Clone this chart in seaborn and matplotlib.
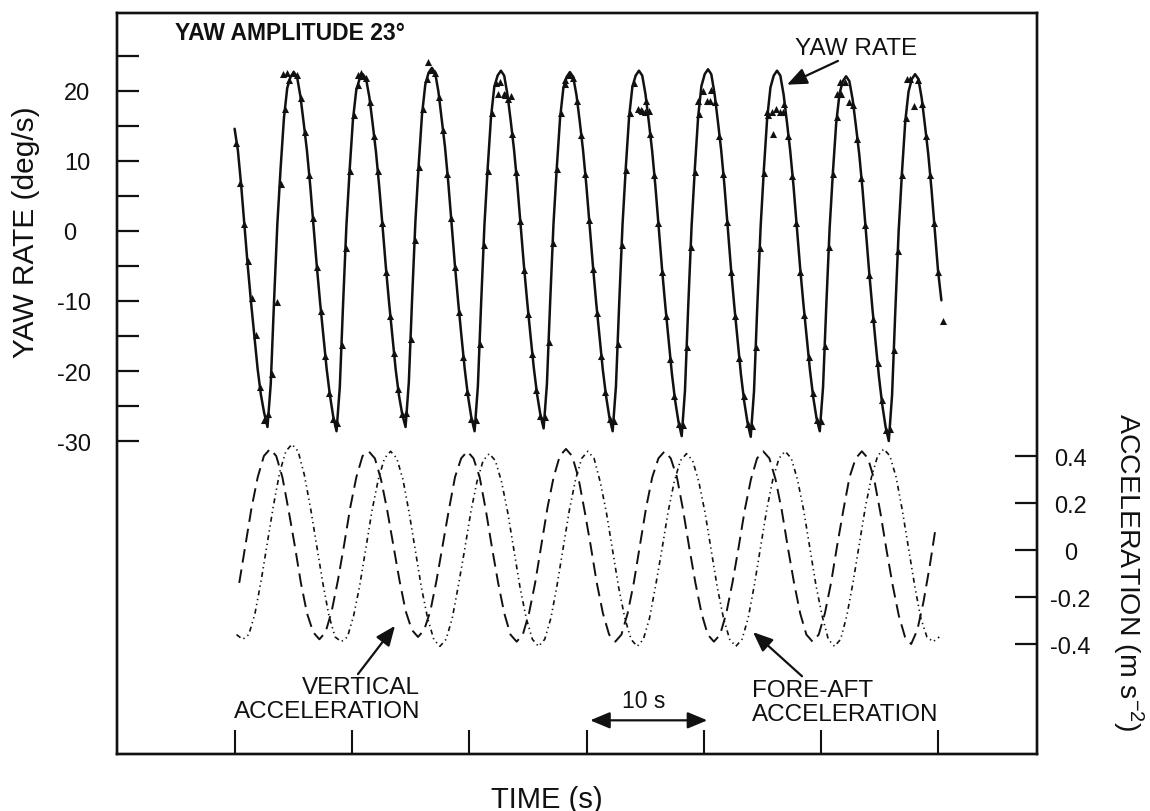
import numpy as np
import pandas as pd
import matplotlib
matplotlib.use("Agg")
import matplotlib.pyplot as plt
import seaborn as sns

# ---------------------------------------------------------------------------
# Yaw rate (deg/s): fitted curve, sampled every YAW_DT seconds from YAW_T0
# ---------------------------------------------------------------------------
YAW_T0 = -0.035
YAW_DT = 0.2805
yaw_curve = [
    14.6, 11.5, 6.5, 0.8, -5.0, -10.2, -15.0, -19.7, -23.4, -26.0,
    -28.0, -21.8, -10.0, 1.0, 9.0, 16.1, 20.4, 22.0, 22.7, 22.0, 19.3,
    15.5, 11.5, 6.5, 0.8, -5.0, -10.2, -15.0, -19.7, -23.5, -26.5,
    -28.6, -22.3, -10.4, 0.7, 8.8, 15.9, 20.1, 21.7, 22.4, 21.7, 19.1,
    15.3, 11.3, 6.3, 0.7, -5.1, -10.3, -15.1, -19.8, -23.5, -26.2,
    -28.0, -21.6, -9.6, 1.4, 9.5, 16.6, 20.9, 22.6, 23.3, 22.6, 19.9,
    16.0, 12.0, 6.9, 1.1, -4.8, -10.1, -15.0, -19.7, -23.6, -26.6,
    -28.6, -22.2, -10.2, 0.9, 9.1, 16.3, 20.6, 22.2, 22.9, 22.2, 19.5,
    15.7, 11.6, 6.6, 0.9, -4.9, -10.1, -14.9, -19.5, -23.3, -26.2,
    -28.2, -21.9, -10.0, 1.0, 9.0, 16.1, 20.4, 22.0, 22.7, 22.0, 19.4,
    15.6, 11.5, 6.5, 0.8, -5.0, -10.3, -15.1, -19.8, -23.6, -26.6,
    -28.6, -22.2, -10.2, 0.9, 9.1, 16.3, 20.6, 22.2, 22.9, 22.2, 19.5,
    15.6, 11.5, 6.4, 0.6, -5.3, -10.6, -15.5, -20.3, -24.2, -27.2,
    -29.3, -22.8, -10.6, 0.6, 8.9, 16.3, 20.7, 22.4, 23.1, 22.4, 19.6,
    15.7, 11.6, 6.5, 0.6, -5.4, -10.7, -15.6, -20.4, -24.3, -27.3,
    -29.4, -22.9, -10.7, 0.5, 8.8, 16.1, 20.5, 22.2, 22.9, 22.2, 19.5,
    15.6, 11.5, 6.5, 0.7, -5.1, -10.3, -15.1, -19.8, -23.7, -26.7,
    -28.6, -22.3, -10.5, 0.4, 8.4, 15.4, 19.6, 21.4, 22.1, 21.4, 18.8,
    15.0, 11.0, 6.0, 0.2, -5.7, -11.0, -16.0, -20.8, -24.8, -27.9,
    -30.0, -23.4, -11.2, 0.0, 8.3, 15.6, 19.9, 21.7, 22.4, 21.7, 19.0,
    15.1, 11.0, 5.9, 0.1, -5.8, -9.9,
]

# measured yaw-rate samples, one every MARK_DT seconds from MARK_T0
MARK_T0 = 0.077
MARK_DT = 0.3465
yaw_samples = [
    12.6, 6.9, 1.0, -4.3, -9.6, -14.9, -22.3, -27.0, -26.1, -20.4, -10.2, 6.7, 17.4, 21.6, 22.6, 22.3, 19.0,
    14.2, 8.0, 1.9, -5.1, -11.4, -17.9, -23.1, -26.9, -27.4, -16.3, -2.4, 8.5, 16.5, 20.8, 22.2, 21.9, 18.4,
    13.6, 8.6, 1.2, -5.8, -12.1, -17.4, -22.5, -26.2, -26.0, -15.4, -1.3, 9.2, 17.4, 21.7, 23.0, 22.6, 19.2,
    14.4, 8.1, 1.8, -5.2, -11.6, -18.0, -23.0, -26.8, -27.0, -16.2, -2.0, 8.6, 16.8, 21.2, 21.3, 19.6, 18.9,
    13.9, 8.4, 1.4, -5.6, -11.9, -17.6, -22.7, -26.4, -26.5, -15.8, -1.7, 8.9, 16.9, 21.0, 22.3, 21.8, 18.6,
    13.7, 8.2, 1.6, -5.4, -11.7, -17.8, -23.0, -26.9, -27.1, -16.1, -2.0, 8.7, 16.8, 21.1, 17.4, 17.1, 18.5,
    13.8, 8.0, 1.2, -5.9, -12.2, -18.3, -23.6, -27.5, -27.7, -16.5, -2.3, 8.4, 16.7, 20.0, 18.6, 20.1, 18.4,
    13.6, 8.1, 1.3, -5.8, -12.1, -18.2, -23.5, -27.6, -27.8, -16.6, -2.4, 8.3, 16.5, 17.0, 17.4, 17.0, 18.2,
    13.5, 7.9, 1.1, -5.9, -12.0, -18.0, -23.1, -27.0, -27.1, -16.4, -2.3, 8.2, 16.3, 19.6, 21.3, 18.4, 18.0,
    13.2, 7.6, 0.8, -6.3, -12.6, -18.8, -24.2, -28.4, -28.3, -17.0, -2.8, 8.0, 16.2, 21.7, 17.9, 21.5, 18.1,
    13.5, 8.0, 1.2, -5.8, -12.9,
]

# further scattered samples around the crests
extra_time = [4.10, 4.45, 10.50, 10.75, 16.47, 22.44, 23.04, 23.55, 28.16,
              34.64, 34.98, 35.32, 39.50, 40.53, 45.39, 45.90, 46.76,
              51.37, 51.62, 57.34]
extra_yaw = [22.4, 22.6, 22.3, 22.5, 24.1, 19.6, 19.4, 19.3, 21.6,
             17.3, 17.0, 17.2, 18.6, 18.5, 17.0, 13.9, 17.0,
             19.6, 21.3, 21.7]

# ---------------------------------------------------------------------------
# Accelerations (m s^-2), sampled every ACC_DT seconds
# ---------------------------------------------------------------------------
ACC_DT = 0.526
VERT_T0 = 0.36
FORE_T0 = 0.126
vertical_acc = [
    -0.14, 0.02, 0.18, 0.31, 0.40, 0.43, 0.40, 0.31, 0.17, 0.02, -0.14, -0.27, -0.35, -0.38, -0.35, -0.26,
    -0.13, 0.02, 0.18, 0.31, 0.40, 0.42, 0.39, 0.30, 0.17, 0.02, -0.13, -0.26, -0.34, -0.37, -0.34, -0.26,
    -0.13, 0.02, 0.17, 0.31, 0.39, 0.42, 0.39, 0.31, 0.17, 0.01, -0.14, -0.27, -0.36, -0.39, -0.36, -0.27,
    -0.14, 0.02, 0.18, 0.31, 0.40, 0.43, 0.40, 0.31, 0.17, 0.02, -0.14, -0.27, -0.36, -0.39, -0.36, -0.27,
    -0.14, 0.02, 0.18, 0.31, 0.39, 0.42, 0.39, 0.31, 0.17, 0.01, -0.14, -0.27, -0.36, -0.39, -0.36, -0.27,
    -0.14, 0.01, 0.17, 0.30, 0.39, 0.42, 0.39, 0.30, 0.17, 0.01, -0.14, -0.27, -0.36, -0.39, -0.36, -0.27,
    -0.14, 0.02, 0.17, 0.31, 0.39, 0.42, 0.39, 0.30, 0.16, 0.00, -0.15, -0.28, -0.37, -0.40, -0.34, -0.22,
    -0.07, 0.10,
]
fore_aft_acc = [
    -0.36, -0.38, -0.36, -0.27, -0.13, 0.03, 0.19, 0.33, 0.42, 0.45, 0.42, 0.32, 0.18, 0.02, -0.14, -0.28,
    -0.37, -0.39, -0.37, -0.28, -0.15, 0.01, 0.17, 0.30, 0.39, 0.42, 0.39, 0.30, 0.16, 0.00, -0.16, -0.29,
    -0.38, -0.41, -0.38, -0.29, -0.15, 0.00, 0.16, 0.29, 0.38, 0.41, 0.38, 0.29, 0.16, 0.00, -0.16, -0.29,
    -0.38, -0.41, -0.38, -0.29, -0.15, 0.01, 0.17, 0.30, 0.39, 0.42, 0.39, 0.29, 0.16, 0.00, -0.16, -0.29,
    -0.38, -0.41, -0.38, -0.29, -0.15, 0.00, 0.16, 0.29, 0.38, 0.41, 0.38, 0.29, 0.16, 0.00, -0.16, -0.29,
    -0.38, -0.41, -0.38, -0.29, -0.15, 0.01, 0.17, 0.30, 0.39, 0.42, 0.39, 0.30, 0.17, 0.01, -0.15, -0.28,
    -0.38, -0.41, -0.38, -0.28, -0.14, 0.02, 0.18, 0.31, 0.40, 0.43, 0.40, 0.31, 0.17, 0.01, -0.15, -0.29,
    -0.37, -0.39, -0.37,
]

# ---------------------------------------------------------------------------
# Axis ticks and labels
# ---------------------------------------------------------------------------
YAW_TICKS = [-30, -25, -20, -15, -10, -5, 0, 5, 10, 15, 20, 25]
YAW_TICK_LABELS = ["-30", "", "-20", "", "-10", "", "0  ", "", "10", "", "20", ""]
ACC_TICKS = [-0.4, -0.2, 0.0, 0.2, 0.4]
ACC_TICK_LABELS = ["-0.4", "-0.2", "0", "0.2", "0.4"]
TIME_TICKS = [0, 10, 20, 30, 40, 50, 60]
SCALE_BAR_START = 30.3   # s
SCALE_BAR_LEN = 10       # s

yaw_df = pd.DataFrame({
    "time": YAW_T0 + YAW_DT * np.arange(len(yaw_curve)),
    "yaw": yaw_curve,
})
sample_df = pd.DataFrame({
    "time": np.concatenate([MARK_T0 + MARK_DT * np.arange(len(yaw_samples)), extra_time]),
    "yaw": np.concatenate([yaw_samples, extra_yaw]),
})
vert_df = pd.DataFrame({
    "time": VERT_T0 + ACC_DT * np.arange(len(vertical_acc)),
    "acc": vertical_acc,
})
fore_df = pd.DataFrame({
    "time": FORE_T0 + ACC_DT * np.arange(len(fore_aft_acc)),
    "acc": fore_aft_acc,
})

# ---------------------------------------------------------------------------
# Style
# ---------------------------------------------------------------------------
sns.set_theme(style="ticks")
plt.rcParams["font.family"] = ["Liberation Sans", "DejaVu Sans"]
plt.rcParams["axes.unicode_minus"] = False
plt.rcParams["mathtext.fontset"] = "custom"
plt.rcParams["mathtext.rm"] = "Liberation Sans"
plt.rcParams["mathtext.default"] = "regular"

INK = "#111111"
W, H = 1150, 812
fig = plt.figure(figsize=(W / 100, H / 100), dpi=100)
fig.patch.set_facecolor("white")
ax = fig.add_axes([117 / W, 1 - 755 / H, 920 / W, 741 / H])
ax2 = ax.twinx()

# yaw rate curve and samples
sns.lineplot(data=yaw_df, x="time", y="yaw", ax=ax, color=INK, linewidth=1.8,
             estimator=None, sort=False, errorbar=None)
sns.scatterplot(data=sample_df, x="time", y="yaw", ax=ax, color=INK, marker="^",
                s=26, linewidth=0, zorder=3)

# accelerations
sns.lineplot(data=vert_df, x="time", y="acc", ax=ax2, color=INK, linewidth=1.4,
             linestyle=(0, (7.0, 3.6)), estimator=None, sort=False, errorbar=None)
sns.lineplot(data=fore_df, x="time", y="acc", ax=ax2, color=INK, linewidth=1.2,
             linestyle=(0, (3.0, 2.2, 0.8, 2.2, 0.8, 2.2)), estimator=None, sort=False,
             errorbar=None)

# limits
ax.set_xlim(-10.07, 68.43)
ax.set_ylim(-74.71, 31.14)
ax2.set_ylim(-0.868, 2.285)

# ticks
ax.set_xticks(TIME_TICKS, labels=[""] * len(TIME_TICKS))
ax.set_yticks(YAW_TICKS, labels=YAW_TICK_LABELS)
ax2.set_yticks(ACC_TICKS, labels=ACC_TICK_LABELS)
ax.tick_params(axis="x", direction="in", length=17, width=1.5, top=False, color=INK)
ax.tick_params(axis="y", direction="in", length=16, width=1.6, pad=19,
               labelsize=17, right=False, color=INK, labelcolor=INK)
ax2.tick_params(axis="y", direction="in", length=16, width=1.6, pad=24,
                labelsize=17, color=INK, labelcolor=INK)
for lbl in ax2.get_yticklabels():
    lbl.set_horizontalalignment("center")

for a in (ax, ax2):
    for sp in a.spines.values():
        sp.set_visible(True)
        sp.set_linewidth(1.7)
        sp.set_color(INK)

# axis titles
ax.set_xlabel("TIME (s)", fontsize=21, color=INK, va="center")
ax.xaxis.set_label_coords(0.467, -0.0607)
ax.set_ylabel("YAW RATE (deg/s)", fontsize=21.5, color=INK, va="center")
ax.yaxis.set_label_coords(-0.099, 0.706)
ax2.set_ylabel("ACCELERATION (m s$^{-2}$)", fontsize=20.5, color=INK, rotation=270,
               va="center")
ax2.yaxis.set_label_coords(1.098, 0.247)

# annotations
ax.text(-5.12, 28.3, "YAW AMPLITUDE 23°", fontsize=16.5, fontweight="bold",
        ha="left", va="center", color=INK)

arrow_kw = dict(arrowstyle="-|>,head_length=0.6,head_width=0.25", color=INK,
                lw=1.6, mutation_scale=20, shrinkA=0, shrinkB=0)

ax.text(47.78, 26.1, "YAW RATE", fontsize=17.5, ha="left", va="center", color=INK)
ax.annotate("", xy=(47.1, 20.9), xytext=(51.45, 24.3), arrowprops=arrow_kw)

ax.text(15.78, -66.9, "VERTICAL\nACCELERATION", fontsize=17.5, ha="right", va="center",
        multialignment="right", linespacing=1.12, color=INK)
ax.annotate("", xy=(13.65, -56.4), xytext=(10.49, -63.3), arrowprops=arrow_kw)

ax.text(44.11, -67.3, "FORE-AFT\nACCELERATION", fontsize=17.5, ha="left", va="center",
        multialignment="left", linespacing=1.12, color=INK)
ax.annotate("", xy=(44.2, -57.3), xytext=(48.38, -63.6), arrowprops=arrow_kw)

ax.text(SCALE_BAR_START + SCALE_BAR_LEN * 0.46, -67.1, "10 s", fontsize=16.5,
        ha="center", va="center", color=INK)
ax.annotate("", xy=(SCALE_BAR_START + SCALE_BAR_LEN, -69.9),
            xytext=(SCALE_BAR_START, -69.9),
            arrowprops=dict(arrowstyle="<|-|>,head_length=0.6,head_width=0.25",
                            color=INK, lw=1.6, mutation_scale=20,
                            shrinkA=0, shrinkB=0))

fig.savefig("out.png", dpi=100, facecolor="white")
